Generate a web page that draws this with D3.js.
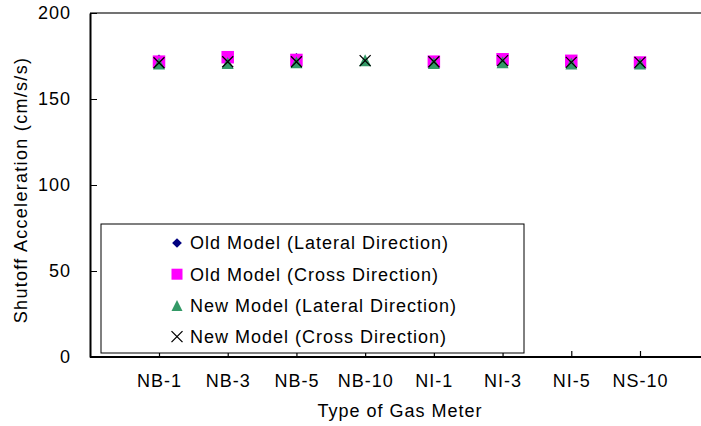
<!DOCTYPE html>
<html>
<head>
<meta charset="utf-8">
<script src="https://cdn.jsdelivr.net/npm/d3@7"></script>
<style>
  html, body { margin: 0; padding: 0; background: #fff; }
  svg { display: block; font-family: "Liberation Sans", Arial, sans-serif; }
</style>
</head>
<body>
<svg id="chart" width="701" height="426"></svg>
<script>
// ---- data ----
const categories = ["NB-1", "NB-3", "NB-5", "NB-10", "NI-1", "NI-3", "NI-5", "NS-10"];
const oldLateral = [172.5, 174.6, 173.4, null, 170.9, 173.4, 172.2, 171.2];
const oldCross   = [171.7, 174.3, 172.7, null, 171.7, 173.1, 172.2, 171.2];
const newLateral = [170.6, 171.0, 171.4, 172.5, 171.0, 171.4, 170.6, 170.6];
const newCross   = [171.1, 171.7, 171.7, 172.3, 171.7, 172.3, 171.3, 171.3];
const yTicks = [0, 50, 100, 150, 200];
const seriesNames = [
  "Old Model (Lateral Direction)",
  "Old Model (Cross Direction)",
  "New Model (Lateral Direction)",
  "New Model (Cross Direction)"
];

// ---- layout ----
const svg = d3.select("#chart");
const plotLeft = 90, plotRight = 701, plotTop = 13, plotBottom = 357;

const x = d3.scalePoint().domain(categories).range([159, 640]);
const y = d3.scaleLinear().domain([0, 200]).range([plotBottom, plotTop]);

const series = [
  { name: seriesNames[0], values: oldLateral, shape: "diamond", color: "#000080" },
  { name: seriesNames[1], values: oldCross,   shape: "square",  color: "#FF00FF" },
  { name: seriesNames[2], values: newLateral, shape: "triangle", color: "#339966" },
  { name: seriesNames[3], values: newCross,   shape: "cross",   color: "#000000" }
];

const textStyle = sel => sel.attr("font-size", 18).attr("letter-spacing", 1).attr("fill", "#000");

// top border
svg.append("line").attr("x1", plotLeft).attr("x2", plotRight).attr("y1", plotTop).attr("y2", plotTop)
  .attr("stroke", "#444").attr("stroke-width", 1.5);

// y axis
const yAxis = svg.append("g").attr("transform", `translate(${plotLeft},0)`)
  .call(d3.axisLeft(y).tickValues(yTicks).tickSizeInner(-7).tickSizeOuter(0).tickPadding(19));
yAxis.select(".domain").attr("stroke", "#000").attr("stroke-width", 2);
yAxis.selectAll(".tick line").attr("stroke", "#000").attr("stroke-width", 1);
yAxis.selectAll(".tick text").attr("font-family", null).call(textStyle);

// x axis
const xAxis = svg.append("g").attr("transform", `translate(0,${plotBottom})`)
  .call(d3.axisBottom(x).tickSizeInner(-6).tickSizeOuter(0).tickPadding(17));
xAxis.select(".domain").attr("d", `M${plotLeft},0H${plotRight}`).attr("stroke", "#000").attr("stroke-width", 2);
xAxis.selectAll(".tick line").attr("stroke", "#000").attr("stroke-width", 1.2);
xAxis.selectAll(".tick text").attr("font-family", null).call(textStyle);

// axis titles
svg.append("text").attr("x", 400).attr("y", 417).attr("text-anchor", "middle")
  .text("Type of Gas Meter").call(textStyle);
svg.append("text").attr("transform", "translate(27,190) rotate(-90)").attr("text-anchor", "middle")
  .text("Shutoff Acceleration (cm/s/s)").call(textStyle).attr("letter-spacing", 1.3);

// marker drawing
function drawMarker(g, shape, color, size) {
  if (shape === "diamond") {
    g.append("path").attr("d", d3.symbol(d3.symbolDiamond2, size * size * 0.5)())
      .attr("fill", color);
  } else if (shape === "square") {
    g.append("rect").attr("x", -size / 2).attr("y", -size / 2).attr("width", size).attr("height", size)
      .attr("fill", color);
  } else if (shape === "triangle") {
    const h = size;
    g.append("path").attr("d", `M0,${-h / 2}L${size / 2},${h / 2}L${-size / 2},${h / 2}Z`)
      .attr("fill", color);
  } else {
    const s = size / 2;
    g.append("path").attr("d", `M${-s},${-s}L${s},${s}M${-s},${s}L${s},${-s}`)
      .attr("stroke", color).attr("stroke-width", 1.3).attr("fill", "none");
  }
}

const plotSizes = { diamond: 13, square: 12.5, triangle: 12, cross: 11 };
series.forEach(s => {
  const g = svg.append("g");
  categories.forEach((c, i) => {
    const v = s.values[i];
    if (v == null) return;
    const m = g.append("g").attr("transform", `translate(${x(c)},${y(v)})`);
    drawMarker(m, s.shape, s.color, plotSizes[s.shape]);
  });
});

// legend
const legend = svg.append("g");
legend.append("rect").attr("x", 101).attr("y", 224).attr("width", 423).attr("height", 129)
  .attr("fill", "#fff").attr("stroke", "#000").attr("stroke-width", 1);
const legendSizes = { diamond: 11, square: 11, triangle: 11, cross: 11 };
series.forEach((s, i) => {
  const cy = 243 + i * 31.2;
  const m = legend.append("g").attr("transform", `translate(177,${cy})`);
  drawMarker(m, s.shape, s.color, legendSizes[s.shape]);
  legend.append("text").attr("x", 190).attr("y", cy).attr("dy", "0.36em")
    .text(s.name).call(textStyle);
});
</script>
</body>
</html>
